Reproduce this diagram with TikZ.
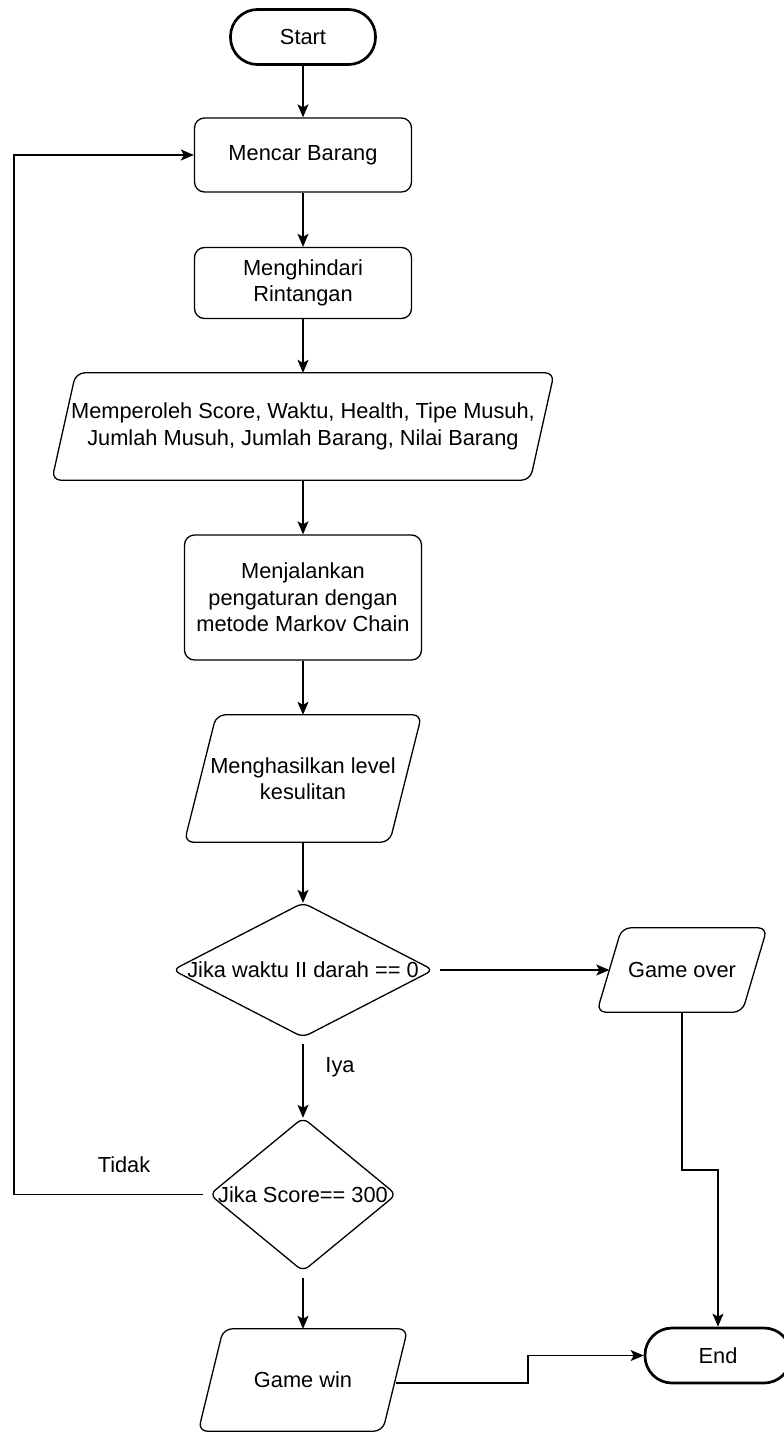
\documentclass[tikz,border=0pt]{standalone}
\usepackage{fontspec}
\setmainfont{Liberation Sans}
\usetikzlibrary{arrows.meta,calc}
\tikzset{
  base/.style={inner sep=0pt, font=\fontsize{21.8}{26.5}\selectfont, align=center, text=black, rectangle},
  proc/.style={base, draw, line width=1.3pt, rounded corners=10pt},
  term/.style={base, draw, line width=2.7pt, rounded corners=27pt},
  ghost/.style={base},
  shapeline/.style={draw, line width=1.3pt},
  arr/.style={line width=1.3pt, -{Stealth[length=13pt,width=11pt,inset=3pt]}},
  conn/.style={line width=1.3pt},
  lbl/.style={font=\fontsize{21.8}{26.5}\selectfont, inner sep=0pt, text=black},
}
\newcommand{\slantshape}[2]{%
  \draw[shapeline, rounded corners=9pt] ($(#1.north west)+(#2,0)$) -- (#1.north east) -- ($(#1.south east)-(#2,0)$) -- (#1.south west) -- cycle;}
\newcommand{\diamondshape}[1]{%
  \draw[shapeline, rounded corners=7pt] (#1.north) -- (#1.east) -- (#1.south) -- (#1.west) -- cycle;}
\begin{document}
\begin{tikzpicture}[x=1pt,y=-1pt]
\useasboundingbox[fill=white] (0,0) rectangle (784,1432);

\node[term, minimum width=145pt, minimum height=55pt] (start) at (303,37) {Start};
\node[proc, minimum width=217pt, minimum height=74pt] (mencar) at (303,155) {Mencar Barang};
\node[proc, minimum width=217pt, minimum height=71pt] (hindar) at (303,283) {Menghindari\\Rintangan};
\node[ghost, minimum width=502pt, minimum height=107pt] (p1) at (303,426.5) {Memperoleh Score, Waktu, Health, Tipe Musuh,\\Jumlah Musuh, Jumlah Barang, Nilai Barang};
\slantshape{p1}{24}
\node[proc, minimum width=237pt, minimum height=125pt] (menj) at (303,597.5) {Menjalankan\\pengaturan dengan\\metode Markov Chain};
\node[ghost, minimum width=237pt, minimum height=127pt] (p2) at (303,778.5) {Menghasilkan level\\kesulitan};
\slantshape{p2}{32}
\node[ghost, minimum width=260pt, minimum height=134pt] (d1) at (303,970) {Jika waktu II darah == 0};
\diamondshape{d1}
\node[ghost, minimum width=170pt, minimum height=84pt] (go) at (682,970) {Game over};
\slantshape{go}{25}
\node[ghost, minimum width=186pt, minimum height=153pt] (d2) at (303,1194.5) {Jika Score== 300};
\diamondshape{d2}
\node[ghost, minimum width=209pt, minimum height=102pt] (gw) at (303,1380) {Game win};
\slantshape{gw}{25}
\node[term, minimum width=146pt, minimum height=55pt] (end) at (718,1355.5) {End};

\node[lbl] (iya) at (340,1067) {Iya};
\node[lbl] (tidak) at (124,1165) {Tidak};

\coordinate (loopx) at (14,0);
\coordinate (bend1) at (0,1170);
\coordinate (bend2) at (528,0);
\coordinate (gwr) at ($(gw.east)+(-12,3)$);

\draw[arr] (start.south) -- (mencar.north);
\draw[arr] (mencar.south) -- (hindar.north);
\draw[arr] (hindar.south) -- (p1.north);
\draw[arr] (p1.south) -- (menj.north);
\draw[arr] (menj.south) -- (p2.north);
\draw[arr] (p2.south) -- (d1.north);
\draw[arr] ($(d1.east)+(7,0)$) -- ($(go.west)+(12.5,0)$);
\draw[arr] ($(d1.south)+(0,7)$) -- (d2.north);
\draw[arr] ($(d2.south)+(0,7)$) -- (gw.north);
\draw[arr] ($(d2.west)+(-7,0)$) -- (d2.west -| loopx) |- (mencar.west);
\draw[arr] (go.south) -- (go.south |- bend1) -| (end.north);
\draw[arr] (gwr) -- (gwr -| bend2) |- (end.west);
\end{tikzpicture}
\end{document}
